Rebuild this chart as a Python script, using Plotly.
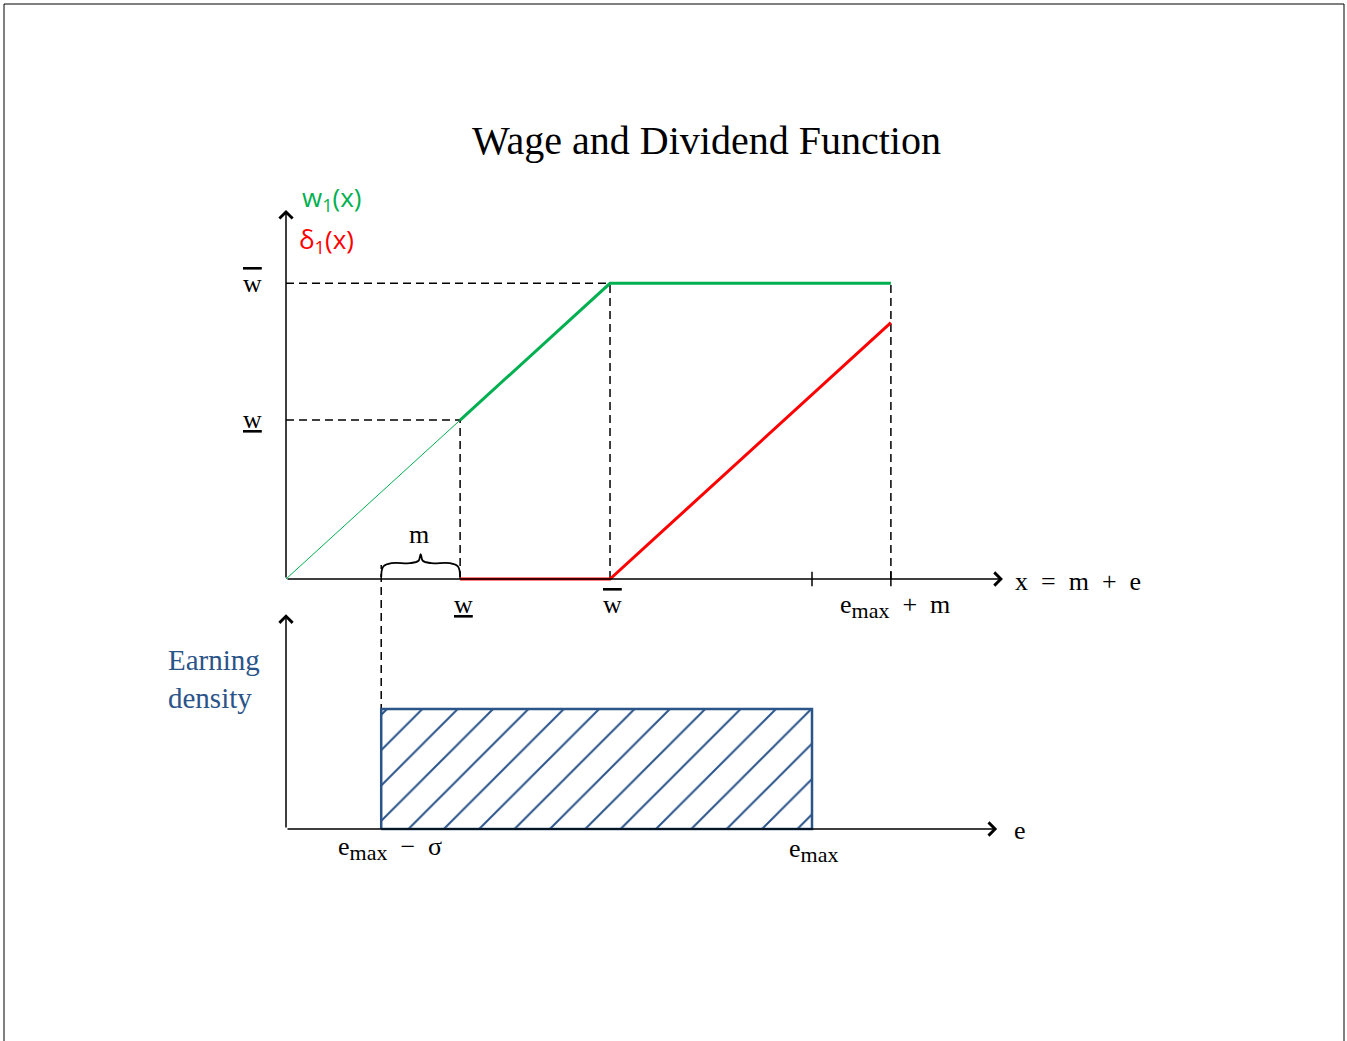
import plotly.graph_objects as go

# model values (x in units of x = m + e, y in wage units)
e_max = 10.0
sigma = 8.19
m = 1.5
e_low = e_max - sigma            # e_max - sigma
w_low = 3.31                     # underline w
w_bar = 6.16                     # overline w
x_end = e_max + m                # e_max + m
w_low_level = 3.31
w_bar_level = 6.16
delta_end = 5.34                 # dividend at e_max + m
density = 1.0

# wage and dividend curves
green_thin_x = [0, w_low]
green_thin_y = [0, w_low_level]
green_x = [w_low, w_bar, x_end]
green_y = [w_low_level, w_bar_level, w_bar_level]
red_x = [w_low, w_bar, x_end]
red_y = [0, 0, delta_end]

# brace over m (from e_low to e_low + m)
brace_mid = e_low + m / 2
brace_x = [e_low, e_low + 0.04, e_low + 0.2, brace_mid - 0.2, brace_mid - 0.04,
           brace_mid, brace_mid + 0.04, brace_mid + 0.2, e_low + m - 0.2,
           e_low + m - 0.04, e_low + m]
brace_y = [0.04, 0.26, 0.33, 0.33, 0.38, 0.52, 0.38, 0.33, 0.33, 0.26, 0.04]

W, H = 1347, 1041
SX = 52.6      # px per x unit
SY = 48.0      # px per wage unit
SY2 = 120.0    # px per density unit
X0, Y0, Y0B = 286, 579, 829   # origins in px

BLACK = "#000000"
GREEN = "#00B050"
RED = "#FF0000"
BLUE = "#2B5489"
SERIF = "Liberation Serif"
DASH = "8px,5px"

fig = go.Figure()


def line(x, y, color=BLACK, width=1.5, dash=None, yaxis="y", shape="linear"):
    fig.add_trace(go.Scatter(
        x=x, y=y, mode="lines", yaxis=yaxis, hoverinfo="skip",
        line=dict(color=color, width=width, dash=dash, shape=shape)))


# guide lines
line([0, w_bar], [w_bar_level, w_bar_level], dash=DASH)
line([0, w_low], [w_low_level, w_low_level], dash=DASH)
line([w_low, w_low], [0, w_low_level], dash=DASH)
line([w_bar, w_bar], [0, w_bar_level], dash=DASH)
line([x_end, x_end], [0, w_bar_level], dash=DASH)
line([e_low, e_low], [0, 2.2], dash=DASH, yaxis="y2")

# ticks on x axis
line([e_max, e_max], [-0.15, 0.15])
line([x_end, x_end], [-0.15, 0.15])

# brace
line(brace_x, brace_y, width=1.8, shape="spline")

# curves
line(green_thin_x, green_thin_y, color=GREEN, width=1)
line(red_x, red_y, color=RED, width=3)
line(green_x, green_y, color=GREEN, width=3)

# earning density (hatched uniform)
fig.add_trace(go.Scatter(
    x=[e_low, e_low, e_max, e_max, e_low],
    y=[0, density, density, 0, 0],
    yaxis="y2", mode="lines", fill="toself", hoverinfo="skip",
    fillcolor="rgba(0,0,0,0)",
    fillpattern=dict(shape="/", size=25, solidity=0.08, fgopacity=1,
                     fgcolor=BLUE, bgcolor="white"),
    line=dict(color=BLUE, width=2.5)))

# axis arrows
arrows = [
    dict(x=0, y=7.69, ax=0, ay=0, yref="y", ayref="y"),
    dict(x=13.63, y=0, ax=0, ay=0, yref="y", ayref="y"),
    dict(x=0, y=1.79, ax=0, ay=0, yref="y2", ayref="y2"),
    dict(x=13.52, y=0, ax=0, ay=0, yref="y2", ayref="y2"),
]
for a in arrows:
    fig.add_annotation(text="", showarrow=True, xref="x", axref="x",
                       arrowhead=4, arrowsize=1.7, arrowwidth=1.5,
                       arrowcolor=BLACK, **a)


def label(text, x, y, size=26, color=BLACK, family=SERIF, xanchor="center"):
    fig.add_annotation(text=text, x=x / W, y=1 - y / H, xref="paper",
                       yref="paper", showarrow=False, xanchor=xanchor,
                       yanchor="middle", align="left",
                       font=dict(family=family, size=size, color=color))


UL = '<span style="text-decoration:underline">w</span>'
OL = '<span style="text-decoration:overline">w</span>'
MAX = '<sub><span style="font-size:22px">max</span></sub>'
SP = "\u00a0"
S2 = SP * 2

label("Wage and Dividend Function", 706, 141, size=40)
label("w<sub>1</sub>(x)", 300, 198, size=26, color=GREEN,
      family="Open Sans", xanchor="left")
label("δ<sub>1</sub>(x)", 297, 240, size=26, color=RED,
      family="Open Sans", xanchor="left")
label(OL, 252, 283)
label(UL, 252, 419)
label(UL, 463, 604)
label(OL, 612, 604)
label("e" + MAX + S2 + "+" + S2 + "m", 895, 606)
label("x" + S2 + "=" + S2 + "m" + S2 + "+" + S2 + "e", 1013, 581,
      xanchor="left")
label("m", 419, 534)
label("Earning<br>density", 166, 679, size=29, color=BLUE, xanchor="left")
label("e" + MAX + S2 + "−" + S2 + "σ", 390, 848)
label("e" + MAX, 813, 850)
label("e", 1020, 830)

# page frame
fig.add_shape(type="rect", xref="paper", yref="paper",
              x0=4 / W, x1=1344 / W, y0=-0.01, y1=1 - 4 / H,
              line=dict(color=BLACK, width=1))

fig.update_layout(
    width=W, height=H, autosize=False,
    margin=dict(l=0, r=0, t=0, b=0),
    paper_bgcolor="white", plot_bgcolor="white",
    showlegend=False,
    xaxis=dict(range=[-X0 / SX, (W - X0) / SX], visible=False,
               fixedrange=True),
    yaxis=dict(range=[-(H - Y0) / SY, Y0 / SY], visible=False,
               fixedrange=True),
    yaxis2=dict(range=[-(H - Y0B) / SY2, Y0B / SY2], visible=False,
                overlaying="y", fixedrange=True),
)

fig.write_html("out.html", config={"displayModeBar": False},
               post_script="document.body.style.margin='0';")
